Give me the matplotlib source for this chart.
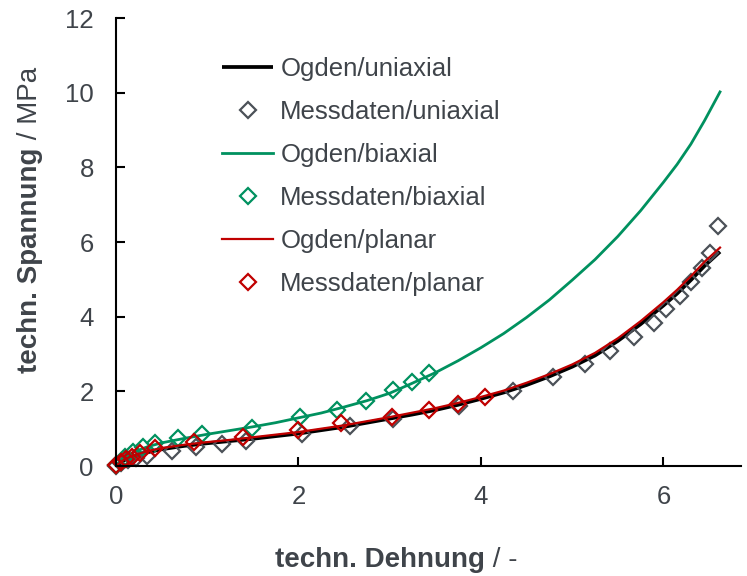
import matplotlib
matplotlib.use("Agg")
import matplotlib.pyplot as plt

plt.rcParams['font.family'] = ['Liberation Sans', 'DejaVu Sans']

TEXT = '#3f444a'
C_UNI_LINE = '#000000'
C_UNI_PTS = '#4b5158'
C_BI = '#00915f'
C_PL = '#c00000'

# Ogden model curves (strain, stress in MPa)
ogden_x = [0.0, 0.05, 0.1, 0.2, 0.35, 0.5, 0.75, 1.0, 1.25, 1.5, 1.75, 2.0, 2.25, 2.5, 2.75,
           3.0, 3.25, 3.5, 3.75, 4.0, 4.25, 4.5, 4.75, 5.0, 5.25, 5.5, 5.75, 6.0, 6.15, 6.3, 6.45, 6.62]

ogden_uni_y = [0.0, 0.09, 0.17, 0.26, 0.37, 0.45, 0.54, 0.61, 0.67, 0.73, 0.80, 0.87, 0.96, 1.05, 1.16,
               1.27, 1.38, 1.50, 1.64, 1.80, 1.97, 2.17, 2.40, 2.66, 2.96, 3.35, 3.80, 4.30, 4.62, 4.98, 5.36, 5.74]

ogden_bi_y = [0.0, 0.14, 0.25, 0.38, 0.52, 0.62, 0.74, 0.85, 0.95, 1.05, 1.16, 1.29, 1.42, 1.58, 1.75,
              1.95, 2.22, 2.50, 2.82, 3.17, 3.55, 3.98, 4.45, 4.98, 5.53, 6.15, 6.84, 7.60, 8.08, 8.62, 9.25, 10.02]

ogden_pl_y = [0.0, 0.10, 0.19, 0.29, 0.40, 0.48, 0.57, 0.64, 0.70, 0.77, 0.84, 0.91, 1.00, 1.09, 1.20,
              1.31, 1.43, 1.55, 1.69, 1.85, 2.02, 2.23, 2.46, 2.72, 3.03, 3.42, 3.88, 4.39, 4.72, 5.08, 5.47, 5.85]

# Measured data
mess_uni_x = [0.0, 0.06, 0.13, 0.22, 0.34, 0.61, 0.88, 1.16, 1.42, 2.04, 2.57, 3.04, 3.76, 4.35, 4.79,
              5.14, 5.41, 5.68, 5.90, 6.03, 6.18, 6.30, 6.42, 6.51, 6.60]
mess_uni_y = [0.0, 0.08, 0.15, 0.21, 0.27, 0.40, 0.51, 0.60, 0.67, 0.85, 1.06, 1.27, 1.62, 2.00, 2.38,
              2.74, 3.09, 3.46, 3.82, 4.21, 4.55, 4.94, 5.30, 5.71, 6.43]

mess_bi_x = [0.0, 0.05, 0.10, 0.19, 0.30, 0.43, 0.68, 0.94, 1.49, 2.02, 2.42, 2.74, 3.04, 3.24, 3.43]
mess_bi_y = [0.02, 0.12, 0.25, 0.37, 0.50, 0.61, 0.74, 0.86, 1.02, 1.32, 1.49, 1.74, 2.04, 2.26, 2.48]

mess_pl_x = [0.0, 0.05, 0.11, 0.17, 0.26, 0.43, 0.85, 1.39, 2.00, 2.47, 3.02, 3.43, 3.75, 4.04]
mess_pl_y = [0.02, 0.10, 0.18, 0.25, 0.34, 0.47, 0.63, 0.77, 0.97, 1.16, 1.32, 1.50, 1.66, 1.84]

x_ticks = [0, 2, 4, 6]
y_ticks = [0, 2, 4, 6, 8, 10, 12]

fig = plt.figure(figsize=(7.47, 5.76), dpi=100)
ax = fig.add_axes([116 / 747, 1 - 466 / 576, (741 - 116) / 747, (466 - 18) / 576])

mk = dict(linestyle='none', marker='D', markersize=7.8, markerfacecolor='none',
          markeredgewidth=1.6, clip_on=False)

ax.plot(ogden_x, ogden_uni_y, color=C_UNI_LINE, lw=2.7, label='Ogden/uniaxial',
        solid_capstyle='butt', solid_joinstyle='round')
ax.plot(mess_uni_x, mess_uni_y, markeredgecolor=C_UNI_PTS, label='Messdaten/uniaxial', **mk)
ax.plot(ogden_x, ogden_bi_y, color=C_BI, lw=2.0, label='Ogden/biaxial', solid_joinstyle='round')
ax.plot(mess_bi_x, mess_bi_y, markeredgecolor=C_BI, label='Messdaten/biaxial', **mk)
ax.plot(ogden_x, ogden_pl_y, color=C_PL, lw=1.6, label='Ogden/planar', solid_joinstyle='round')
ax.plot(mess_pl_x, mess_pl_y, markeredgecolor=C_PL, label='Messdaten/planar', **mk)

ax.set_xlim(0, 6.85)
ax.set_ylim(0, 12)
ax.set_xticks(x_ticks)
ax.set_yticks(y_ticks)
ax.spines['top'].set_visible(False)
ax.spines['right'].set_visible(False)
for s in ('left', 'bottom'):
    ax.spines[s].set_linewidth(1.5)
    ax.spines[s].set_color('black')
ax.tick_params(axis='both', direction='in', length=6.5, width=1.5, color='black',
               labelsize=18.5, labelcolor=TEXT)
ax.tick_params(axis='y', pad=16)
ax.tick_params(axis='x', pad=14)

leg = ax.legend(loc='upper left', bbox_to_anchor=(222 / 747, 1 - 57 / 576),
                bbox_transform=fig.transFigure, frameon=False, fontsize=18.5,
                handlelength=2.0, handletextpad=0.27, labelspacing=0.74,
                borderpad=0.0, borderaxespad=0.0)
for t in leg.get_texts():
    t.set_color(TEXT)

# Axis titles: bold quantity name followed by the unit in regular weight
LABEL_FS = 20
renderer = fig.canvas.get_renderer()

xa = fig.text(0, 1 - 560 / 576, 'techn. Dehnung', weight='bold', ha='left', va='baseline',
              fontsize=LABEL_FS, color=TEXT)
xb = fig.text(0, 1 - 560 / 576, ' / -', ha='left', va='baseline', fontsize=LABEL_FS, color=TEXT)
wa = xa.get_window_extent(renderer).width
wb = xb.get_window_extent(renderer).width
x0 = 396 - (wa + wb) / 2
xa.set_x(x0 / 747)
xb.set_x((x0 + wa) / 747)
y_base = 1 - 567 / 576
xa.set_y(y_base)
xb.set_y(y_base)

ya = fig.text(0, 0, 'techn. Spannung', weight='bold', rotation=90, ha='center', va='bottom',
              fontsize=LABEL_FS, color=TEXT)
yb = fig.text(0, 0, ' / MPa', rotation=90, ha='center', va='bottom', fontsize=LABEL_FS, color=TEXT)
ha_ = ya.get_window_extent(renderer).height
hb_ = yb.get_window_extent(renderer).height
y0 = (576 - 220) - (ha_ + hb_) / 2
cx = 30 / 747
ya.set_position((cx, y0 / 576))
yb.set_position((cx, (y0 + ha_) / 576))

fig.savefig('out.png', dpi=100)
